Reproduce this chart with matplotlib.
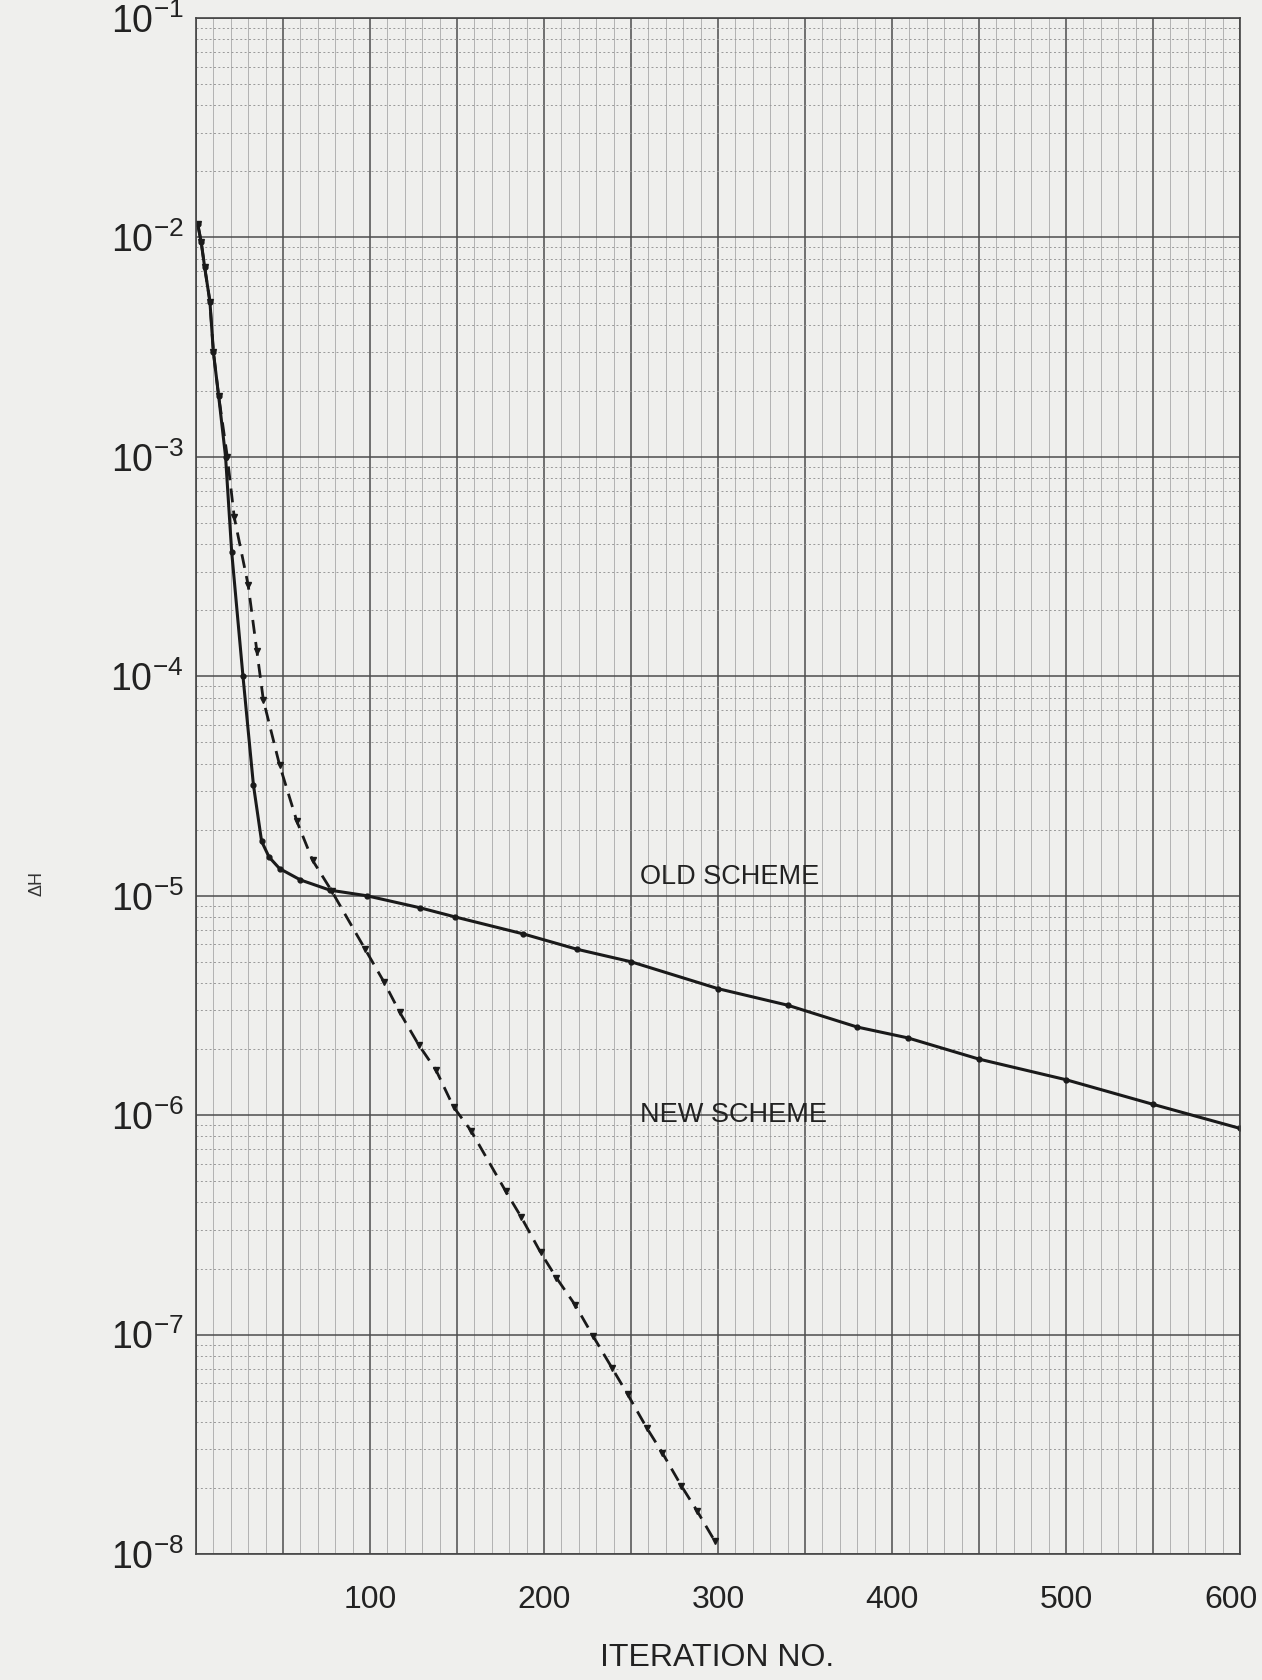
import matplotlib
matplotlib.use("Agg")
import matplotlib.pyplot as plt
import matplotlib.transforms as mtransforms
from matplotlib.ticker import FixedLocator, LogLocator, MultipleLocator, NullFormatter

plt.rcParams['font.family'] = ['Liberation Sans Narrow', 'Liberation Sans', 'DejaVu Sans']
plt.rcParams['mathtext.fontset'] = 'custom'
plt.rcParams['mathtext.rm'] = 'Liberation Sans'
plt.rcParams['mathtext.it'] = 'Liberation Sans'

# old scheme (solid line)
old_x = [1, 3, 5, 8, 10, 13, 17, 20.5, 27, 33, 37.7, 42, 48, 60, 77, 98,
         129, 149, 188, 219, 250, 300, 340, 380, 409, 450, 500, 550, 600]
old_y = [1.15e-2, 9.5e-3, 7.3e-3, 5.1e-3, 3.0e-3, 1.9e-3, 1.0e-3, 3.7e-4, 1.0e-4,
         3.2e-5, 1.77e-5, 1.5e-5, 1.33e-5, 1.18e-5, 1.06e-5, 1.0e-5,
         8.8e-6, 8.0e-6, 6.7e-6, 5.7e-6, 5.0e-6, 3.77e-6, 3.17e-6, 2.52e-6,
         2.25e-6, 1.8e-6, 1.45e-6, 1.12e-6, 8.7e-7]

# new scheme (dashed line)
new_x = [1, 3, 5, 8, 10, 13, 18, 22, 30, 35, 38.7, 48, 58, 67, 78, 97, 108, 117,
         128, 138, 148, 158, 178, 187, 198, 207, 218, 228, 239, 248, 259, 268,
         279, 288, 298]
new_y = [1.15e-2, 9.5e-3, 7.3e-3, 5.1e-3, 3.0e-3, 1.9e-3, 1.0e-3, 5.3e-4, 2.6e-4,
         1.3e-4, 7.8e-5, 3.95e-5, 2.18e-5, 1.45e-5, 1.05e-5, 5.74e-6, 4.05e-6,
         2.95e-6, 2.09e-6, 1.6e-6, 1.09e-6, 8.5e-7, 4.5e-7, 3.42e-7, 2.37e-7,
         1.82e-7, 1.36e-7, 9.9e-8, 7.06e-8, 5.35e-8, 3.76e-8, 2.89e-8, 2.04e-8,
         1.57e-8, 1.15e-8]

x_ticks = [100, 200, 300, 400, 500, 600]
y_ticks = [1e-8, 1e-7, 1e-6, 1e-5, 1e-4, 1e-3, 1e-2, 1e-1]
y_labels = [r'$10^{-8}$', r'$10^{-7}$', r'$10^{-6}$', r'$10^{-5}$',
            r'$10^{-4}$', r'$10^{-3}$', r'$10^{-2}$', r'$10^{-1}$']

paper = '#efefed'
fig = plt.figure(figsize=(12.62, 16.8), dpi=100, facecolor=paper)
ax = fig.add_axes([0.1553, 0.075, 0.8273, 0.9143], facecolor=paper)

ax.set_yscale('log')
ax.set_xlim(0, 600)
ax.set_ylim(1e-8, 1e-1)

# graph paper grid
ax.xaxis.set_major_locator(MultipleLocator(50))
ax.xaxis.set_minor_locator(MultipleLocator(10))
ax.yaxis.set_major_locator(FixedLocator(y_ticks))
ax.yaxis.set_minor_locator(LogLocator(base=10, subs=range(2, 10), numticks=20))
ax.yaxis.set_minor_formatter(NullFormatter())
ax.grid(which='major', color='#4d4d4d', linewidth=1.1)
ax.xaxis.grid(which='minor', color='#a8a8a8', linewidth=0.6)
ax.yaxis.grid(which='minor', color='#999999', linewidth=0.7, linestyle=(0, (2, 2.5)))
ax.set_axisbelow(True)

ax.plot(old_x, old_y, color='#1a1a1a', linewidth=2.2, marker='o', markersize=3.5)
ax.plot(new_x, new_y, color='#1a1a1a', linewidth=2.0, linestyle=(0, (5, 3)),
        marker='v', markersize=5)

ax.text(255, 1.22e-5, 'OLD SCHEME', fontsize=19.5, va='center', ha='left', color='#222222')
ax.text(255, 1.0e-6, 'NEW SCHEME', fontsize=19.5, va='center', ha='left', color='#222222')

ticks50 = [50 * i for i in range(13)]
ax.set_xticks(ticks50)
ax.set_xticklabels([str(v) if v in x_ticks else '' for v in ticks50])
ax.set_yticks(y_ticks)
ax.set_yticklabels(y_labels)
ax.tick_params(which='both', length=0)
ax.tick_params(axis='x', labelsize=23, pad=22, colors='#222222')
ax.tick_params(axis='y', labelsize=27, pad=9, colors='#222222')

# last x label sits a little left of its grid line, as in the original
shift = mtransforms.ScaledTranslation(-0.09, 0, fig.dpi_scale_trans)
for lab in ax.get_xticklabels():
    if lab.get_text() == '600':
        lab.set_transform(lab.get_transform() + shift)

for s in ax.spines.values():
    s.set_color('#444444')
    s.set_linewidth(1.2)

fig.text(0.568, 0.004, 'ITERATION NO.', fontsize=23, ha='center', va='bottom', color='#222222')
fig.text(0.029, 0.474, 'ΔH', fontsize=13, rotation=90, ha='center', va='center', color='#333333')

fig.savefig('out.png', dpi=100, facecolor=paper)
